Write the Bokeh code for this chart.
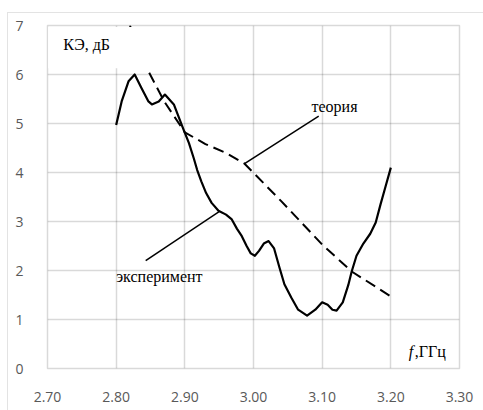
from bokeh.plotting import figure
from bokeh.models import Range1d, FixedTicker, PrintfTickFormatter, Label, BoxAnnotation
from bokeh.embed import file_html
from bokeh.resources import INLINE

# ---- data ----
freq_exp = [2.800, 2.808, 2.818, 2.827, 2.837, 2.847, 2.852, 2.862, 2.871, 2.884,
            2.898, 2.906, 2.913, 2.918, 2.924, 2.931, 2.939, 2.949, 2.960, 2.968,
            2.976, 2.983, 2.990, 2.996, 3.002, 3.008, 3.015, 3.022, 3.030, 3.038,
            3.045, 3.055, 3.065, 3.078, 3.090, 3.100, 3.108, 3.115, 3.121, 3.130,
            3.138, 3.143, 3.150, 3.160, 3.170, 3.178, 3.185, 3.192, 3.200]
ke_exp = [4.97, 5.45, 5.86, 6.00, 5.72, 5.45, 5.39, 5.45, 5.59, 5.39,
          4.88, 4.60, 4.29, 4.05, 3.82, 3.58, 3.38, 3.22, 3.14, 3.05,
          2.85, 2.70, 2.50, 2.35, 2.30, 2.40, 2.55, 2.60, 2.45, 2.05,
          1.72, 1.45, 1.20, 1.08, 1.20, 1.35, 1.30, 1.20, 1.18, 1.35,
          1.70, 1.98, 2.30, 2.55, 2.75, 2.98, 3.35, 3.70, 4.10]

freq_theory = [2.820, 2.845, 2.870, 2.900, 2.930, 2.960, 2.987, 3.040, 3.100, 3.143, 3.200]
ke_theory = [7.00, 6.12, 5.45, 4.82, 4.58, 4.40, 4.18, 3.42, 2.53, 1.98, 1.47]

x_ticks = [2.70, 2.80, 2.90, 3.00, 3.10, 3.20, 3.30]
y_ticks = [0, 1, 2, 3, 4, 5, 6, 7]

y_title = "КЭ, дБ"
x_title_f = "f"
x_title_unit = ",ГГц"
label_theory = "теория"
label_exp = "эксперимент"

# annotation anchor points (data units)
theory_leader_x = [2.987, 3.095]
theory_leader_y = [4.18, 5.15]
exp_leader_x = [2.950, 2.843]
exp_leader_y = [3.20, 2.20]

TICK = "#595959"
SERIF = "Liberation Serif"

p = figure(width=476, height=398, output_backend="svg", toolbar_location=None,
           x_range=Range1d(2.70, 3.30), y_range=Range1d(0, 7),
           min_border_left=39, min_border_right=25, min_border_top=12, min_border_bottom=43)
p.margin = (12, 0, 0, 7)
p.styles = {"border-top": "1px solid #e3e3e3", "border-left": "1px solid #e3e3e3",
            "box-sizing": "border-box"}

p.background_fill_color = "white"
p.border_fill_color = "white"
p.outline_line_color = "black"
p.outline_line_alpha = 0.15
p.outline_line_width = 1.5

p.xaxis.ticker = FixedTicker(ticks=x_ticks)
p.yaxis.ticker = FixedTicker(ticks=y_ticks)
p.xaxis.formatter = PrintfTickFormatter(format="%.2f")
for ax in (p.xaxis, p.yaxis):
    ax.axis_line_color = None
    ax.major_tick_line_color = None
    ax.minor_tick_line_color = None
    ax.major_label_text_font = "Open Sans"
    ax.major_label_text_font_size = "14px"
    ax.major_label_text_color = TICK
p.xaxis.major_label_standoff = 17
p.yaxis.major_label_standoff = 18

p.grid.grid_line_color = "black"
p.grid.grid_line_alpha = 0.15
p.grid.grid_line_width = 1.5

# curves
p.line(freq_theory, ke_theory, line_color="black", line_width=2, line_dash="11 6")
p.line(freq_exp, ke_exp, line_color="black", line_width=2.2, line_join="round")

# leader lines
p.line(theory_leader_x, theory_leader_y, line_color="black", line_width=1.5)
p.line(exp_leader_x, exp_leader_y, line_color="black", line_width=1.5)

# white box behind y-axis title (as in the reference)
p.add_layout(BoxAnnotation(left=2.701, right=2.857, bottom=6.13, top=6.97,
                           fill_color="white", fill_alpha=1.0, line_color=None))

p.add_layout(Label(x=2.723, y=6.61, text=y_title, text_font=SERIF, text_font_size="16px",
                   text_color="black", text_baseline="middle", text_align="left"))
p.add_layout(Label(x=3.118, y=5.35, text=label_theory, text_font=SERIF, text_font_size="16px",
                   text_color="black", text_baseline="middle", text_align="center"))
p.add_layout(Label(x=2.863, y=1.88, text=label_exp, text_font=SERIF, text_font_size="16px",
                   text_color="black", text_baseline="middle", text_align="center"))
p.add_layout(Label(x=3.226, y=0.35, text=x_title_f, text_font=SERIF, text_font_size="16px",
                   text_font_style="italic", text_color="black", text_baseline="middle",
                   text_align="left"))
p.add_layout(Label(x=3.235, y=0.35, text=x_title_unit, text_font=SERIF, text_font_size="16px",
                   text_color="black", text_baseline="middle", text_align="left"))

open("out.html", "w").write(file_html(p, INLINE))
